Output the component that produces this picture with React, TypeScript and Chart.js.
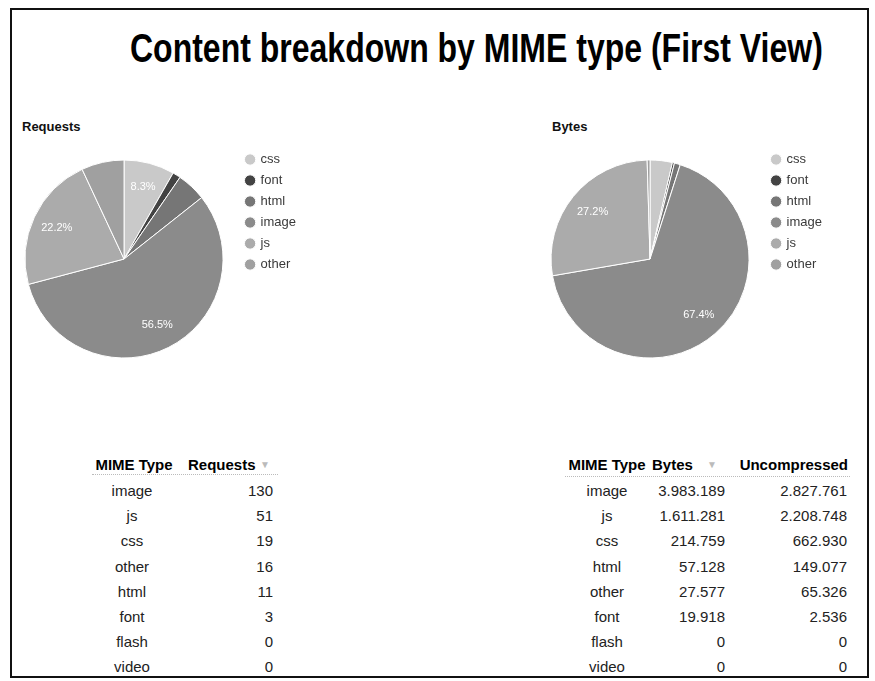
import React, { useEffect, useRef } from "react";
import { Chart, registerables } from "chart.js";

Chart.register(...registerables);

// ---- data ----
const mimeTypes = ["css", "font", "html", "image", "js", "other"];
const requestCounts = [19, 3, 11, 130, 51, 16];
const byteCounts = [214759, 19918, 57128, 3983189, 1611281, 27577];
const sliceColors = ["#c9c9c9", "#434343", "#767676", "#8b8b8b", "#ababab", "#a0a0a0"];

const requestTableTypes = ["image", "js", "css", "other", "html", "font", "flash", "video"];
const requestTableValues = [130, 51, 19, 16, 11, 3, 0, 0];
const bytesTableTypes = ["image", "js", "css", "html", "other", "font", "flash", "video"];
const bytesTableValues = [3983189, 1611281, 214759, 57128, 27577, 19918, 0, 0];
const uncompressedTableValues = [2827761, 2208748, 662930, 149077, 65326, 2536, 0, 0];

const titleText = "Content breakdown by MIME type (First View)";

const FONT = "Arial, 'Liberation Sans', Helvetica, sans-serif";

const fmt = (n: number) => String(n).replace(/\B(?=(\d{3})+(?!\d))/g, ".");

const sliceLabels = {
  id: "sliceLabels",
  afterDatasetsDraw(chart: any) {
    const ctx = chart.ctx;
    const meta = chart.getDatasetMeta(0);
    const data = chart.data.datasets[0].data as number[];
    const total = data.reduce((a, b) => a + b, 0);
    ctx.save();
    ctx.fillStyle = "#ffffff";
    ctx.font = "11px " + FONT;
    ctx.textAlign = "center";
    ctx.textBaseline = "middle";
    meta.data.forEach((arc: any, i: number) => {
      const pct = (data[i] / total) * 100;
      if (pct < 8) return;
      const p = arc.getProps(["x", "y", "startAngle", "endAngle", "outerRadius"], true);
      const mid = (p.startAngle + p.endAngle) / 2;
      const r = p.outerRadius * 0.75;
      ctx.fillText(pct.toFixed(1) + "%", p.x + Math.cos(mid) * r, p.y + Math.sin(mid) * r);
    });
    ctx.restore();
  },
};

function PieChart({ values, left, top }: { values: number[]; left: number; top: number }) {
  const ref = useRef<HTMLCanvasElement | null>(null);
  useEffect(() => {
    if (!ref.current) return;
    const chart = new Chart(ref.current, {
      type: "pie",
      data: {
        labels: mimeTypes,
        datasets: [
          {
            data: values,
            backgroundColor: sliceColors,
            borderColor: "#ffffff",
            borderWidth: 1,
            radius: 99,
          } as any,
        ],
      },
      options: {
        animation: false,
        responsive: false,
        maintainAspectRatio: false,
        layout: { padding: 0 },
        plugins: {
          legend: {
            position: "right",
            align: "start",
            labels: {
              usePointStyle: true,
              pointStyle: "circle",
              boxWidth: 8,
              boxHeight: 8,
              padding: 8,
              color: "#3a3a3a",
              font: { size: 13, family: FONT },
            },
          },
          tooltip: { enabled: false },
        },
      },
      plugins: [sliceLabels],
    });
    return () => chart.destroy();
  }, [values]);
  return (
    <canvas
      ref={ref}
      width={296}
      height={228}
      style={{ position: "absolute", left, top, width: 296, height: 228 }}
    />
  );
}

function Cell({ x, y, align, bold, color, size, children }: any) {
  const tx = align === "center" ? "-50%" : align === "right" ? "-100%" : "0";
  return (
    <span
      style={{
        position: "absolute",
        left: x,
        top: y - 9,
        lineHeight: "18px",
        height: 18,
        whiteSpace: "nowrap",
        transform: `translateX(${tx})`,
        fontFamily: FONT,
        fontSize: size || 15,
        fontWeight: bold ? "bold" : "normal",
        color: color || "#222",
      }}
    >
      {children}
    </span>
  );
}

const ROW0 = 491;
const ROWH = 25.2;
const HEAD = 465;

export default function App() {
  return (
    <div style={{ position: "absolute", left: 0, top: 0, width: 875, height: 681, background: "#fff" }}>
      <div
        style={{
          position: "absolute",
          left: 10,
          top: 8,
          width: 855,
          height: 666,
          border: "2px solid #111",
        }}
      />
      <div
        style={{
          position: "absolute",
          left: 130,
          top: 28,
          whiteSpace: "nowrap",
          transform: "scaleX(0.8)",
          transformOrigin: "0 0",
          fontFamily: FONT,
          fontWeight: "bold",
          fontSize: 40,
          lineHeight: "40px",
          color: "#000",
        }}
      >
        {titleText}
      </div>

      <Cell x={22} y={127} bold size={13} color="#111">Requests</Cell>
      <Cell x={552} y={127} bold size={13} color="#111">Bytes</Cell>

      <PieChart values={requestCounts} left={10} top={145} />
      <PieChart values={byteCounts} left={536} top={145} />

      {/* Requests table */}
      <Cell x={134} y={HEAD} align="center" bold color="#000">MIME Type</Cell>
      <Cell x={188} y={HEAD} bold color="#000">Requests</Cell>
      <Cell x={265} y={HEAD} align="center" size={10} color="#bbb">▼</Cell>
      <div style={{ position: "absolute", left: 92, top: 474, width: 186, borderTop: "1px dotted #bbb" }} />
      {requestTableTypes.map((t, i) => (
        <React.Fragment key={"r" + t}>
          <Cell x={132} y={ROW0 + i * ROWH} align="center">{t}</Cell>
          <Cell x={273} y={ROW0 + i * ROWH} align="right">{fmt(requestTableValues[i])}</Cell>
        </React.Fragment>
      ))}

      {/* Bytes table */}
      <Cell x={607} y={HEAD} align="center" bold color="#000">MIME Type</Cell>
      <Cell x={652} y={HEAD} bold color="#000">Bytes</Cell>
      <Cell x={712} y={HEAD} align="center" size={10} color="#bbb">▼</Cell>
      <Cell x={848} y={HEAD} align="right" bold color="#000">Uncompressed</Cell>
      <div style={{ position: "absolute", left: 565, top: 476, width: 285, borderTop: "1px dotted #bbb" }} />
      {bytesTableTypes.map((t, i) => (
        <React.Fragment key={"b" + t}>
          <Cell x={607} y={ROW0 + i * ROWH} align="center">{t}</Cell>
          <Cell x={725} y={ROW0 + i * ROWH} align="right">{fmt(bytesTableValues[i])}</Cell>
          <Cell x={847} y={ROW0 + i * ROWH} align="right">{fmt(uncompressedTableValues[i])}</Cell>
        </React.Fragment>
      ))}
    </div>
  );
}
